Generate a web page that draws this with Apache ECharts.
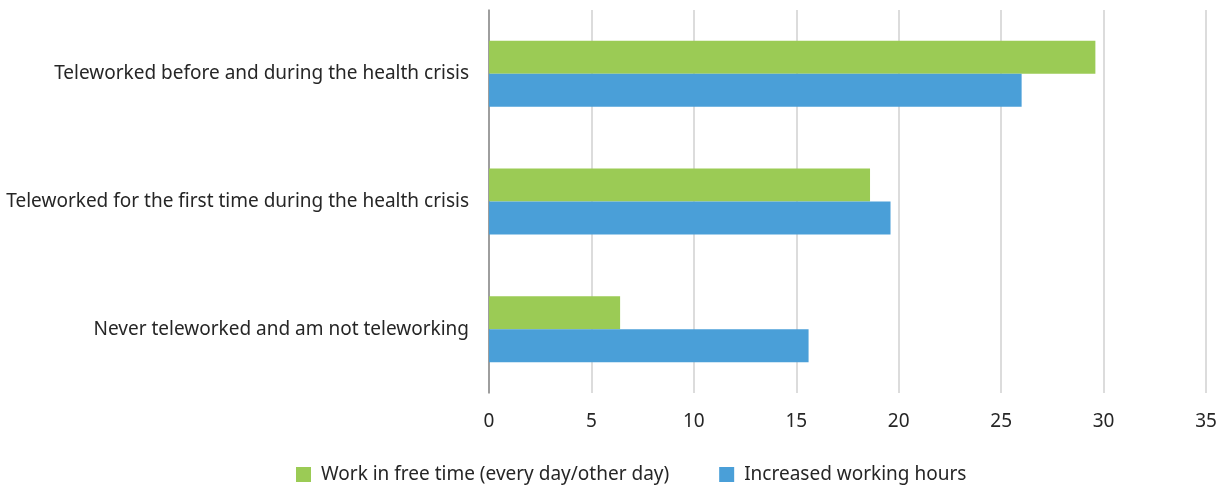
<!DOCTYPE html>
<html>
<head>
<meta charset="utf-8">
<script src="https://cdn.jsdelivr.net/npm/echarts@6/dist/echarts.min.js"></script>
<style>
  html, body { margin: 0; padding: 0; background: #fff; }
  #chart { width: 1224px; height: 487px; }
</style>
</head>
<body>
<div id="chart"></div>
<script>
// Categories listed top to bottom
const categories = [
  'Teleworked before and during the health crisis',
  'Teleworked for the first time during the health crisis',
  'Never teleworked and am not teleworking'
];
const seriesNames = ['Work in free time (every day/other day)', 'Increased working hours'];
const freeTimeWork = [29.6, 18.6, 6.4];
const increasedHours = [26.0, 19.6, 15.6];
const xTicks = [0, 5, 10, 15, 20, 25, 30, 35];

const FONT = 'Noto Sans';
const chart = echarts.init(document.getElementById('chart'));
chart.setOption({
  animation: false,
  textStyle: { fontFamily: FONT },
  grid: { left: 489, right: 18, top: 10, bottom: 94 },
  legend: {
    data: seriesNames,
    top: 460,
    left: 291,
    itemWidth: 15,
    itemHeight: 15,
    itemGap: 50,
    icon: 'rect',
    textStyle: { fontFamily: FONT, fontSize: 19, color: '#262626', padding: [0, 0, 0, 5] }
  },
  xAxis: {
    type: 'value',
    min: xTicks[0],
    max: xTicks[xTicks.length - 1],
    interval: 5,
    axisLine: { show: false },
    axisTick: { show: false },
    axisLabel: { fontFamily: FONT, fontSize: 19, color: '#262626', margin: 19 },
    splitLine: { lineStyle: { color: '#d0d0d0', width: 1.5 } }
  },
  yAxis: {
    type: 'category',
    data: categories,
    inverse: true,
    axisLine: { show: true, lineStyle: { color: '#8a8a8a', width: 1.5 } },
    axisTick: { show: false },
    axisLabel: { fontFamily: FONT, fontSize: 19, color: '#262626', margin: 20 }
  },
  series: [
    {
      name: seriesNames[0],
      type: 'bar',
      data: freeTimeWork,
      barWidth: 33,
      barGap: '0%',
      itemStyle: { color: '#9bcb55' }
    },
    {
      name: seriesNames[1],
      type: 'bar',
      data: increasedHours,
      barWidth: 33,
      barGap: '0%',
      itemStyle: { color: '#4a9fd8' }
    }
  ]
});
</script>
</body>
</html>
